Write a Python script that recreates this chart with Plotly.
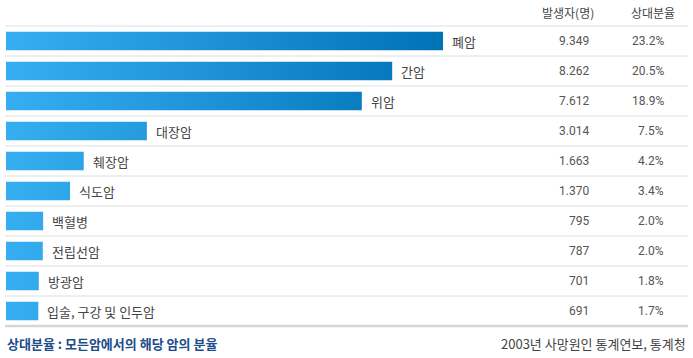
import plotly.graph_objects as go

categories = ["폐암", "간암", "위암", "대장암", "췌장암", "식도암", "백혈병", "전립선암", "방광암", "입술, 구강 및 인두암"]
cases = [9349, 8262, 7612, 3014, 1663, 1370, 795, 787, 701, 691]
case_labels = ["9.349", "8.262", "7.612", "3.014", "1.663", "1.370", "795", "787", "701", "691"]
shares = [23.2, 20.5, 18.9, 7.5, 4.2, 3.4, 2.0, 2.0, 1.8, 1.7]
headers = ["발생자(명)", "상대분율"]
footnote_left = "상대분율 : 모든암에서의 해당 암의 분율"
footnote_right = "2003년 사망원인 통계연보, 통계청"

W, H = 693, 358
KR = "Noto Sans CJK KR"
NUM = "Roboto"

# pixel geometry of the layout
left_px, max_px = 6, 443
row_top_px, row_h = 26, 30
units_per_px = max(cases) / (max_px - left_px)
x0 = -left_px * units_per_px
x1 = x0 + W * units_per_px
# y in row units: row i center at pixel row_top_px + row_h*(i+0.5)
y_top = -(row_top_px + row_h / 2) / row_h
y_bot = y_top + H / row_h

half = 0.31
cscale = [[0, "#37aef2"], [1, "#0072b6"]]

fig = go.Figure()
for i, v in enumerate(cases):
    fig.add_trace(go.Scatter(
        x=[0, v, v, 0, 0],
        y=[i - half, i - half, i + half, i + half, i - half],
        mode="lines", line=dict(width=0), fill="toself",
        fillgradient=dict(type="horizontal", colorscale=cscale, start=0, stop=max(cases)),
        hoverinfo="skip", showlegend=False,
    ))

shapes = []
for k in range(len(categories) + 1):
    last = k == len(categories)
    shapes.append(dict(type="line", xref="paper", yref="y",
                       x0=5 / W, x1=688 / W, y0=k - 0.5, y1=k - 0.5,
                       line=dict(color="#d6d6d6" if last else "#dedede", width=2.5 if last else 1)))

ann = []
for i, (c, v, cl, s) in enumerate(zip(categories, cases, case_labels, shares)):
    ann.append(dict(x=v, y=i, xref="x", yref="y", text=c, showarrow=False,
                    xanchor="left", xshift=7, font=dict(family=KR, size=13, color="#444444")))
    ann.append(dict(x=591 / W, y=i, xref="paper", yref="y", text=cl, showarrow=False,
                    xanchor="right", font=dict(family=NUM, size=12, color="#555555")))
    ann.append(dict(x=666 / W, y=i, xref="paper", yref="y", text=f"{s:.1f}%", showarrow=False,
                    xanchor="right", font=dict(family=NUM, size=12, color="#555555")))

ann.append(dict(x=568 / W, y=1 - 13 / H, xref="paper", yref="paper", text=headers[0], showarrow=False,
                xanchor="center", yanchor="middle", font=dict(family=KR, size=12, color="#444444")))
ann.append(dict(x=653 / W, y=1 - 13 / H, xref="paper", yref="paper", text=headers[1], showarrow=False,
                xanchor="center", yanchor="middle", font=dict(family=KR, size=12, color="#444444")))
ann.append(dict(x=5 / W, y=1 - 343 / H, xref="paper", yref="paper", text="<b>" + footnote_left + "</b>",
                showarrow=False, xanchor="left", yanchor="middle",
                font=dict(family=KR, size=13, color="#1d4d8c")))
ann.append(dict(x=688 / W, y=1 - 343 / H, xref="paper", yref="paper", text=footnote_right,
                showarrow=False, xanchor="right", yanchor="middle",
                font=dict(family=KR, size=13, color="#444444")))

fig.update_layout(
    width=W, height=H, margin=dict(l=0, r=0, t=0, b=0),
    paper_bgcolor="white", plot_bgcolor="white",
    xaxis=dict(range=[x0, x1], visible=False, fixedrange=True),
    yaxis=dict(range=[y_bot, y_top], visible=False, fixedrange=True),
    shapes=shapes, annotations=ann, showlegend=False,
)
fig.write_html("out.html", config={"displayModeBar": False},
               post_script="document.body.style.margin='0';document.body.style.overflow='hidden';")
